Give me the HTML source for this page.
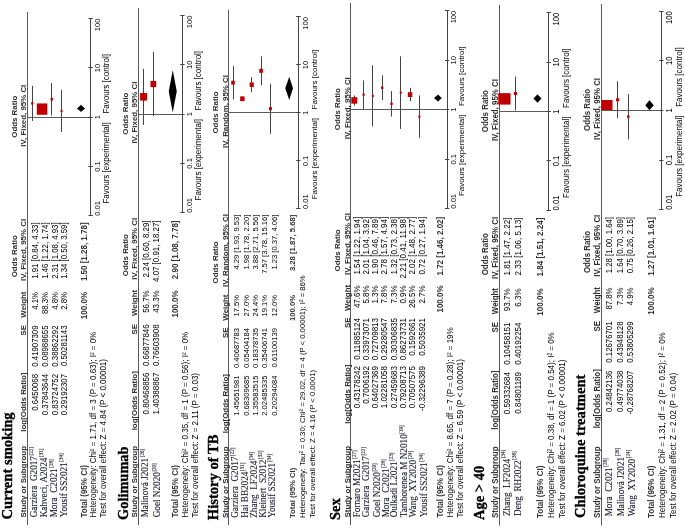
<!DOCTYPE html>
<html><head><meta charset="utf-8"><style>
html,body{margin:0;padding:0;background:#fff;}
body{width:685px;height:528px;overflow:hidden;position:relative;}
#c{position:absolute;left:0;top:0;width:528px;height:685px;transform-origin:0 0;transform:translate(0,528px) rotate(-90deg);background:#fff;filter:blur(0.4px);}
.t{position:absolute;white-space:pre;color:#000;}
.n{-webkit-text-stroke:0.12px currentColor;}
.tt{-webkit-text-stroke:0.3px currentColor;}
sup{font-size:5.0px;vertical-align:0;position:relative;top:-0.85em;margin-left:0.6px;}
svg{position:absolute;left:0;top:0;}
</style></head><body><div id="c">
<svg width="528" height="685" viewBox="0 0 528 685"><line x1="3.00" y1="27.50" x2="516.00" y2="27.50" stroke="#5a5a5a" stroke-width="1"/><line x1="407.07" y1="32.50" x2="442.18" y2="32.50" stroke="#444" stroke-width="1"/><rect x="423.43" y="31.17" width="2.44" height="2.26" fill="#c00000"/><line x1="415.06" y1="42.50" x2="422.66" y2="42.50" stroke="#444" stroke-width="1"/><rect x="413.23" y="36.80" width="11.34" height="10.50" fill="#c00000"/><line x1="412.45" y1="51.50" x2="444.96" y2="51.50" stroke="#444" stroke-width="1"/><rect x="427.40" y="50.58" width="2.64" height="2.45" fill="#c00000"/><line x1="395.96" y1="61.50" x2="438.17" y2="61.50" stroke="#444" stroke-width="1"/><rect x="415.99" y="60.55" width="2.16" height="2.00" fill="#c00000"/><polygon points="416.09,81.05 419.48,77.05 423.15,81.05 419.48,85.05" fill="#000"/><line x1="410.50" y1="27.50" x2="410.50" y2="90.65" stroke="#5a5a5a" stroke-width="1"/><line x1="312.20" y1="90.50" x2="509.40" y2="90.50" stroke="#444" stroke-width="1"/><line x1="312.50" y1="88.45" x2="312.50" y2="92.85" stroke="#444" stroke-width="1"/><line x1="361.50" y1="88.45" x2="361.50" y2="92.85" stroke="#444" stroke-width="1"/><line x1="410.50" y1="88.45" x2="410.50" y2="92.85" stroke="#444" stroke-width="1"/><line x1="460.50" y1="88.45" x2="460.50" y2="92.85" stroke="#444" stroke-width="1"/><line x1="509.50" y1="88.45" x2="509.50" y2="92.85" stroke="#444" stroke-width="1"/><line x1="3.00" y1="138.50" x2="520.00" y2="138.50" stroke="#5a5a5a" stroke-width="1"/><line x1="402.96" y1="143.50" x2="459.18" y2="143.50" stroke="#444" stroke-width="1"/><rect x="427.39" y="140.10" width="7.56" height="7.00" fill="#c00000"/><line x1="411.88" y1="153.50" x2="476.10" y2="153.50" stroke="#444" stroke-width="1"/><rect x="440.82" y="150.45" width="6.26" height="5.80" fill="#c00000"/><polygon points="415.55,172.85 436.70,168.85 457.83,172.85 436.70,176.85" fill="#000"/><line x1="413.50" y1="138.20" x2="413.50" y2="182.45" stroke="#5a5a5a" stroke-width="1"/><line x1="315.30" y1="182.50" x2="512.50" y2="182.50" stroke="#444" stroke-width="1"/><line x1="315.50" y1="180.25" x2="315.50" y2="184.65" stroke="#444" stroke-width="1"/><line x1="364.50" y1="180.25" x2="364.50" y2="184.65" stroke="#444" stroke-width="1"/><line x1="413.50" y1="180.25" x2="413.50" y2="184.65" stroke="#444" stroke-width="1"/><line x1="463.50" y1="180.25" x2="463.50" y2="184.65" stroke="#444" stroke-width="1"/><line x1="512.50" y1="180.25" x2="512.50" y2="184.65" stroke="#444" stroke-width="1"/><line x1="3.00" y1="228.50" x2="518.40" y2="228.50" stroke="#5a5a5a" stroke-width="1"/><line x1="428.71" y1="233.50" x2="462.00" y2="233.50" stroke="#444" stroke-width="1"/><rect x="443.44" y="231.23" width="3.84" height="3.56" fill="#c00000"/><line x1="427.02" y1="242.50" x2="431.44" y2="242.50" stroke="#444" stroke-width="1"/><rect x="426.85" y="240.16" width="4.77" height="4.42" fill="#c00000"/><line x1="435.78" y1="251.50" x2="450.76" y2="251.50" stroke="#444" stroke-width="1"/><rect x="441.00" y="249.62" width="4.53" height="4.20" fill="#c00000"/><line x1="442.72" y1="261.50" x2="471.67" y2="261.50" stroke="#444" stroke-width="1"/><rect x="455.19" y="259.23" width="4.01" height="3.71" fill="#c00000"/><line x1="394.27" y1="270.50" x2="444.21" y2="270.50" stroke="#444" stroke-width="1"/><rect x="417.73" y="268.97" width="3.18" height="2.94" fill="#c00000"/><polygon points="428.05,289.16 439.76,285.32 451.21,289.16 439.76,293.00" fill="#000"/><line x1="415.50" y1="228.30" x2="415.50" y2="298.38" stroke="#5a5a5a" stroke-width="1"/><line x1="319.00" y1="298.50" x2="511.00" y2="298.50" stroke="#444" stroke-width="1"/><line x1="319.50" y1="296.18" x2="319.50" y2="300.58" stroke="#444" stroke-width="1"/><line x1="367.50" y1="296.18" x2="367.50" y2="300.58" stroke="#444" stroke-width="1"/><line x1="415.50" y1="296.18" x2="415.50" y2="300.58" stroke="#444" stroke-width="1"/><line x1="463.50" y1="296.18" x2="463.50" y2="300.58" stroke="#444" stroke-width="1"/><line x1="511.50" y1="296.18" x2="511.50" y2="300.58" stroke="#444" stroke-width="1"/><line x1="3.00" y1="350.50" x2="525.00" y2="350.50" stroke="#5a5a5a" stroke-width="1"/><line x1="422.57" y1="354.50" x2="432.55" y2="354.50" stroke="#444" stroke-width="1"/><rect x="424.34" y="351.31" width="6.48" height="6.00" fill="#c00000"/><line x1="419.14" y1="363.50" x2="447.67" y2="363.50" stroke="#444" stroke-width="1"/><rect x="432.18" y="362.55" width="2.26" height="2.10" fill="#c00000"/><line x1="401.61" y1="372.50" x2="462.71" y2="372.50" stroke="#444" stroke-width="1"/><rect x="431.02" y="371.89" width="2.16" height="2.00" fill="#c00000"/><line x1="428.00" y1="382.50" x2="452.64" y2="382.50" stroke="#444" stroke-width="1"/><rect x="438.97" y="380.97" width="2.62" height="2.43" fill="#c00000"/><line x1="411.53" y1="391.50" x2="436.94" y2="391.50" stroke="#444" stroke-width="1"/><rect x="423.00" y="390.30" width="2.54" height="2.35" fill="#c00000"/><line x1="399.13" y1="400.50" x2="471.68" y2="400.50" stroke="#444" stroke-width="1"/><rect x="434.27" y="399.77" width="2.16" height="2.00" fill="#c00000"/><line x1="426.73" y1="410.50" x2="440.20" y2="410.50" stroke="#444" stroke-width="1"/><rect x="431.00" y="407.82" width="4.84" height="4.48" fill="#c00000"/><line x1="390.15" y1="419.50" x2="432.55" y2="419.50" stroke="#444" stroke-width="1"/><rect x="410.16" y="418.35" width="2.16" height="2.00" fill="#c00000"/><polygon points="426.44,437.93 429.96,434.12 433.41,437.93 429.96,441.75" fill="#000"/><line x1="418.50" y1="350.40" x2="418.50" y2="447.08" stroke="#5a5a5a" stroke-width="1"/><line x1="319.30" y1="447.50" x2="517.30" y2="447.50" stroke="#444" stroke-width="1"/><line x1="319.50" y1="444.88" x2="319.50" y2="449.28" stroke="#444" stroke-width="1"/><line x1="368.50" y1="444.88" x2="368.50" y2="449.28" stroke="#444" stroke-width="1"/><line x1="418.50" y1="444.88" x2="418.50" y2="449.28" stroke="#444" stroke-width="1"/><line x1="467.50" y1="444.88" x2="467.50" y2="449.28" stroke="#444" stroke-width="1"/><line x1="517.50" y1="444.88" x2="517.50" y2="449.28" stroke="#444" stroke-width="1"/><line x1="2.50" y1="499.50" x2="523.00" y2="499.50" stroke="#5a5a5a" stroke-width="1"/><line x1="424.67" y1="504.50" x2="433.51" y2="504.50" stroke="#444" stroke-width="1"/><rect x="423.41" y="498.25" width="11.43" height="12.29" fill="#c00000"/><line x1="417.65" y1="515.50" x2="451.48" y2="515.50" stroke="#444" stroke-width="1"/><rect x="433.07" y="513.82" width="2.96" height="3.19" fill="#c00000"/><polygon points="425.24,537.45 429.48,533.38 433.70,537.45 429.48,541.52" fill="#000"/><line x1="416.50" y1="499.20" x2="416.50" y2="548.75" stroke="#5a5a5a" stroke-width="1"/><line x1="317.60" y1="548.50" x2="515.20" y2="548.50" stroke="#444" stroke-width="1"/><line x1="317.50" y1="546.55" x2="317.50" y2="550.95" stroke="#444" stroke-width="1"/><line x1="367.50" y1="546.55" x2="367.50" y2="550.95" stroke="#444" stroke-width="1"/><line x1="416.50" y1="546.55" x2="416.50" y2="550.95" stroke="#444" stroke-width="1"/><line x1="465.50" y1="546.55" x2="465.50" y2="550.95" stroke="#444" stroke-width="1"/><line x1="515.50" y1="546.55" x2="515.50" y2="550.95" stroke="#444" stroke-width="1"/><line x1="2.50" y1="601.50" x2="524.00" y2="601.50" stroke="#5a5a5a" stroke-width="1"/><line x1="417.55" y1="606.50" x2="428.21" y2="606.50" stroke="#444" stroke-width="1"/><rect x="417.75" y="601.49" width="10.23" height="11.00" fill="#c00000"/><line x1="409.87" y1="617.50" x2="446.81" y2="617.50" stroke="#444" stroke-width="1"/><rect x="426.73" y="616.03" width="2.95" height="3.17" fill="#c00000"/><line x1="388.53" y1="628.50" x2="434.04" y2="628.50" stroke="#444" stroke-width="1"/><rect x="410.14" y="626.94" width="2.42" height="2.60" fill="#c00000"/><polygon points="417.76,649.50 422.70,645.14 427.81,649.50 422.70,653.86" fill="#000"/><line x1="417.50" y1="601.10" x2="417.50" y2="661.27" stroke="#5a5a5a" stroke-width="1"/><line x1="318.35" y1="661.50" x2="516.75" y2="661.50" stroke="#444" stroke-width="1"/><line x1="318.50" y1="659.07" x2="318.50" y2="663.47" stroke="#444" stroke-width="1"/><line x1="367.50" y1="659.07" x2="367.50" y2="663.47" stroke="#444" stroke-width="1"/><line x1="417.50" y1="659.07" x2="417.50" y2="663.47" stroke="#444" stroke-width="1"/><line x1="467.50" y1="659.07" x2="467.50" y2="663.47" stroke="#444" stroke-width="1"/><line x1="516.50" y1="659.07" x2="516.50" y2="663.47" stroke="#444" stroke-width="1"/></svg>
<div class="t tt" style="top:-0.12px;font-family:'Liberation Serif', serif;font-size:14.6px;line-height:14.6px;font-weight:bold;left:8.50px;">Current smoking</div><div class="t" style="top:11.18px;font-family:'Liberation Sans', sans-serif;font-size:7.9px;line-height:7.9px;font-weight:bold;color:#2e2e2e;left:250.70px;transform:scaleY(1.026);transform-origin:0 6.71px;">Odds Ratio</div><div class="t" style="top:11.18px;font-family:'Liberation Sans', sans-serif;font-size:7.9px;line-height:7.9px;font-weight:bold;color:#2e2e2e;left:211.30px;width:400px;text-align:center;transform:scaleY(1.026);transform-origin:0 6.71px;">Odds Ratio</div><div class="t" style="top:19.98px;font-family:'Liberation Sans', sans-serif;font-size:7.9px;line-height:7.9px;font-weight:bold;color:#2e2e2e;left:10.50px;transform:scaleY(1.026);transform-origin:0 6.71px;">Study or Subgroup</div><div class="t" style="top:19.98px;font-family:'Liberation Sans', sans-serif;font-size:7.9px;line-height:7.9px;font-weight:bold;color:#2e2e2e;right:372.50px;transform:scaleY(1.026);transform-origin:0 6.71px;">log[Odds Ratio]</div><div class="t" style="top:19.98px;font-family:'Liberation Sans', sans-serif;font-size:7.9px;line-height:7.9px;font-weight:bold;color:#2e2e2e;right:325.00px;transform:scaleY(1.026);transform-origin:0 6.71px;">SE</div><div class="t" style="top:19.98px;font-family:'Liberation Sans', sans-serif;font-size:7.9px;line-height:7.9px;font-weight:bold;color:#2e2e2e;right:291.50px;transform:scaleY(1.026);transform-origin:0 6.71px;">Weight</div><div class="t" style="top:19.98px;font-family:'Liberation Sans', sans-serif;font-size:7.9px;line-height:7.9px;font-weight:bold;color:#2e2e2e;left:247.10px;transform:scaleY(1.026);transform-origin:0 6.71px;">IV, Fixed, 95% CI</div><div class="t" style="top:19.98px;font-family:'Liberation Sans', sans-serif;font-size:7.9px;line-height:7.9px;font-weight:bold;color:#2e2e2e;left:212.30px;width:400px;text-align:center;transform:scaleY(1.026);transform-origin:0 6.71px;">IV, Fixed, 95% CI</div><div class="t n" style="top:30.26px;font-family:'Liberation Serif', serif;font-size:9.2px;line-height:9.2px;color:#1c1c30;left:10.70px;transform:scaleY(1.080);transform-origin:0 7.64px;">Garziera  G2017<sup>[22]</sup></div><div class="t" style="top:32.07px;font-family:'Liberation Sans', sans-serif;font-size:7.8px;line-height:7.8px;right:374.00px;transform:scaleY(1.080);transform-origin:0 6.63px;">0.6450068</div><div class="t" style="top:32.07px;font-family:'Liberation Sans', sans-serif;font-size:7.8px;line-height:7.8px;right:325.50px;transform:scaleY(1.080);transform-origin:0 6.63px;">0.41907309</div><div class="t" style="top:32.07px;font-family:'Liberation Sans', sans-serif;font-size:7.8px;line-height:7.8px;right:292.00px;transform:scaleY(1.080);transform-origin:0 6.63px;">4.1%</div><div class="t" style="top:32.07px;font-family:'Liberation Sans', sans-serif;font-size:7.8px;line-height:7.8px;right:222.40px;transform:scaleY(1.080);transform-origin:0 6.63px;">1.91 [0.84, 4.33]</div><div class="t n" style="top:40.01px;font-family:'Liberation Serif', serif;font-size:9.2px;line-height:9.2px;color:#1c1c30;left:10.70px;transform:scaleY(1.080);transform-origin:0 7.64px;">Kahveci, A2024<sup>[31]</sup></div><div class="t" style="top:41.82px;font-family:'Liberation Sans', sans-serif;font-size:7.8px;line-height:7.8px;right:374.00px;transform:scaleY(1.080);transform-origin:0 6.63px;">0.37843644</div><div class="t" style="top:41.82px;font-family:'Liberation Sans', sans-serif;font-size:7.8px;line-height:7.8px;right:325.50px;transform:scaleY(1.080);transform-origin:0 6.63px;">0.08988655</div><div class="t" style="top:41.82px;font-family:'Liberation Sans', sans-serif;font-size:7.8px;line-height:7.8px;right:292.00px;transform:scaleY(1.080);transform-origin:0 6.63px;">88.3%</div><div class="t" style="top:41.82px;font-family:'Liberation Sans', sans-serif;font-size:7.8px;line-height:7.8px;right:222.40px;transform:scaleY(1.080);transform-origin:0 6.63px;">1.46 [1.22, 1.74]</div><div class="t n" style="top:49.76px;font-family:'Liberation Serif', serif;font-size:9.2px;line-height:9.2px;color:#1c1c30;left:10.70px;transform:scaleY(1.080);transform-origin:0 7.64px;">Mora  C2021<sup>[28]</sup></div><div class="t" style="top:51.57px;font-family:'Liberation Sans', sans-serif;font-size:7.8px;line-height:7.8px;right:374.00px;transform:scaleY(1.080);transform-origin:0 6.63px;">0.83724752</div><div class="t" style="top:51.57px;font-family:'Liberation Sans', sans-serif;font-size:7.8px;line-height:7.8px;right:325.50px;transform:scaleY(1.080);transform-origin:0 6.63px;">0.38862292</div><div class="t" style="top:51.57px;font-family:'Liberation Sans', sans-serif;font-size:7.8px;line-height:7.8px;right:292.00px;transform:scaleY(1.080);transform-origin:0 6.63px;">4.8%</div><div class="t" style="top:51.57px;font-family:'Liberation Sans', sans-serif;font-size:7.8px;line-height:7.8px;right:222.40px;transform:scaleY(1.080);transform-origin:0 6.63px;">2.31 [1.08, 4.93]</div><div class="t n" style="top:59.51px;font-family:'Liberation Serif', serif;font-size:9.2px;line-height:9.2px;color:#1c1c30;left:10.70px;transform:scaleY(1.080);transform-origin:0 7.64px;">Yousif SS2021<sup>[34]</sup></div><div class="t" style="top:61.32px;font-family:'Liberation Sans', sans-serif;font-size:7.8px;line-height:7.8px;right:374.00px;transform:scaleY(1.080);transform-origin:0 6.63px;">0.29192307</div><div class="t" style="top:61.32px;font-family:'Liberation Sans', sans-serif;font-size:7.8px;line-height:7.8px;right:325.50px;transform:scaleY(1.080);transform-origin:0 6.63px;">0.50281143</div><div class="t" style="top:61.32px;font-family:'Liberation Sans', sans-serif;font-size:7.8px;line-height:7.8px;right:292.00px;transform:scaleY(1.080);transform-origin:0 6.63px;">2.8%</div><div class="t" style="top:61.32px;font-family:'Liberation Sans', sans-serif;font-size:7.8px;line-height:7.8px;right:222.40px;transform:scaleY(1.080);transform-origin:0 6.63px;">1.34 [0.50, 3.59]</div><div class="t" style="top:80.65px;font-family:'Liberation Sans', sans-serif;font-size:8px;line-height:8px;font-weight:bold;color:#333;left:10.50px;transform:scaleY(1.080);transform-origin:0 6.80px;">Total (95% CI)</div><div class="t" style="top:80.65px;font-family:'Liberation Sans', sans-serif;font-size:8px;line-height:8px;font-weight:bold;color:#333;right:292.00px;transform:scaleY(1.080);transform-origin:0 6.80px;">100.0%</div><div class="t" style="top:80.65px;font-family:'Liberation Sans', sans-serif;font-size:8px;line-height:8px;font-weight:bold;color:#333;right:222.40px;transform:scaleY(1.080);transform-origin:0 6.80px;">1.50 [1.28, 1.78]</div><div class="t" style="top:90.40px;font-family:'Liberation Sans', sans-serif;font-size:8px;line-height:8px;left:10.50px;transform:scaleY(1.080);transform-origin:0 6.80px;">Heterogeneity: Chi² = 1.71, df = 3 (P = 0.63); I² = 0%</div><div class="t" style="top:100.15px;font-family:'Liberation Sans', sans-serif;font-size:8px;line-height:8px;left:10.50px;transform:scaleY(1.080);transform-origin:0 6.80px;">Test for overall effect: Z = 4.84 (P &lt; 0.00001)</div><div class="t" style="top:94.09px;font-family:'Liberation Sans', sans-serif;font-size:7.6px;line-height:7.6px;left:312.20px;transform:scaleY(1.026);transform-origin:0 6.46px;">0.01</div><div class="t" style="top:94.09px;font-family:'Liberation Sans', sans-serif;font-size:7.6px;line-height:7.6px;left:161.50px;width:400px;text-align:center;transform:scaleY(1.026);transform-origin:0 6.46px;">0.1</div><div class="t" style="top:94.09px;font-family:'Liberation Sans', sans-serif;font-size:7.6px;line-height:7.6px;left:210.80px;width:400px;text-align:center;transform:scaleY(1.026);transform-origin:0 6.46px;">1</div><div class="t" style="top:94.09px;font-family:'Liberation Sans', sans-serif;font-size:7.6px;line-height:7.6px;left:260.10px;width:400px;text-align:center;transform:scaleY(1.026);transform-origin:0 6.46px;">10</div><div class="t" style="top:94.09px;font-family:'Liberation Sans', sans-serif;font-size:7.6px;line-height:7.6px;right:18.60px;transform:scaleY(1.026);transform-origin:0 6.46px;">100</div><div class="t" style="top:102.85px;font-family:'Liberation Sans', sans-serif;font-size:8px;line-height:8px;right:122.20px;transform:scaleY(1.026);transform-origin:0 6.80px;">Favours [experimental]</div><div class="t" style="top:102.85px;font-family:'Liberation Sans', sans-serif;font-size:8px;line-height:8px;left:414.40px;transform:scaleY(1.026);transform-origin:0 6.80px;">Favours [control]</div><div class="t tt" style="top:115.55px;font-family:'Liberation Serif', serif;font-size:14.4px;line-height:14.4px;font-weight:bold;left:8.00px;">Golimumab</div><div class="t" style="top:121.88px;font-family:'Liberation Sans', sans-serif;font-size:7.9px;line-height:7.9px;font-weight:bold;color:#2e2e2e;left:251.80px;transform:scaleY(1.026);transform-origin:0 6.71px;">Odds Ratio</div><div class="t" style="top:121.88px;font-family:'Liberation Sans', sans-serif;font-size:7.9px;line-height:7.9px;font-weight:bold;color:#2e2e2e;left:214.40px;width:400px;text-align:center;transform:scaleY(1.026);transform-origin:0 6.71px;">Odds Ratio</div><div class="t" style="top:131.48px;font-family:'Liberation Sans', sans-serif;font-size:7.9px;line-height:7.9px;font-weight:bold;color:#2e2e2e;left:10.50px;transform:scaleY(1.026);transform-origin:0 6.71px;">Study or Subgroup</div><div class="t" style="top:131.48px;font-family:'Liberation Sans', sans-serif;font-size:7.9px;line-height:7.9px;font-weight:bold;color:#2e2e2e;right:371.20px;transform:scaleY(1.026);transform-origin:0 6.71px;">log[Odds Ratio]</div><div class="t" style="top:131.48px;font-family:'Liberation Sans', sans-serif;font-size:7.9px;line-height:7.9px;font-weight:bold;color:#2e2e2e;right:323.90px;transform:scaleY(1.026);transform-origin:0 6.71px;">SE</div><div class="t" style="top:131.48px;font-family:'Liberation Sans', sans-serif;font-size:7.9px;line-height:7.9px;font-weight:bold;color:#2e2e2e;right:289.90px;transform:scaleY(1.026);transform-origin:0 6.71px;">Weight</div><div class="t" style="top:131.48px;font-family:'Liberation Sans', sans-serif;font-size:7.9px;line-height:7.9px;font-weight:bold;color:#2e2e2e;left:248.20px;transform:scaleY(1.026);transform-origin:0 6.71px;">IV, Fixed, 95% CI</div><div class="t" style="top:131.48px;font-family:'Liberation Sans', sans-serif;font-size:7.9px;line-height:7.9px;font-weight:bold;color:#2e2e2e;left:215.40px;width:400px;text-align:center;transform:scaleY(1.026);transform-origin:0 6.71px;">IV, Fixed, 95% CI</div><div class="t n" style="top:141.26px;font-family:'Liberation Serif', serif;font-size:9.2px;line-height:9.2px;color:#1c1c30;left:10.70px;transform:scaleY(1.080);transform-origin:0 7.64px;">Malinová J2021<sup>[26]</sup></div><div class="t" style="top:142.98px;font-family:'Liberation Sans', sans-serif;font-size:7.9px;line-height:7.9px;right:372.70px;transform:scaleY(1.080);transform-origin:0 6.71px;">0.80468856</div><div class="t" style="top:142.98px;font-family:'Liberation Sans', sans-serif;font-size:7.9px;line-height:7.9px;right:324.40px;transform:scaleY(1.080);transform-origin:0 6.71px;">0.66877846</div><div class="t" style="top:142.98px;font-family:'Liberation Sans', sans-serif;font-size:7.9px;line-height:7.9px;right:290.40px;transform:scaleY(1.080);transform-origin:0 6.71px;">56.7%</div><div class="t" style="top:142.98px;font-family:'Liberation Sans', sans-serif;font-size:7.9px;line-height:7.9px;right:220.50px;transform:scaleY(1.080);transform-origin:0 6.71px;">2.24 [0.60, 8.29]</div><div class="t n" style="top:152.51px;font-family:'Liberation Serif', serif;font-size:9.2px;line-height:9.2px;color:#1c1c30;left:10.70px;transform:scaleY(1.080);transform-origin:0 7.64px;">Goel N2020<sup>[20]</sup></div><div class="t" style="top:152.73px;font-family:'Liberation Sans', sans-serif;font-size:7.9px;line-height:7.9px;right:372.70px;transform:scaleY(1.080);transform-origin:0 6.71px;">1.40388867</div><div class="t" style="top:152.73px;font-family:'Liberation Sans', sans-serif;font-size:7.9px;line-height:7.9px;right:324.40px;transform:scaleY(1.080);transform-origin:0 6.71px;">0.76603908</div><div class="t" style="top:152.73px;font-family:'Liberation Sans', sans-serif;font-size:7.9px;line-height:7.9px;right:290.40px;transform:scaleY(1.080);transform-origin:0 6.71px;">43.3%</div><div class="t" style="top:152.73px;font-family:'Liberation Sans', sans-serif;font-size:7.9px;line-height:7.9px;right:220.50px;transform:scaleY(1.080);transform-origin:0 6.71px;">4.07 [0.91, 18.27]</div><div class="t" style="top:172.15px;font-family:'Liberation Sans', sans-serif;font-size:8px;line-height:8px;font-weight:bold;color:#333;left:10.50px;transform:scaleY(1.080);transform-origin:0 6.80px;">Total (95% CI)</div><div class="t" style="top:172.15px;font-family:'Liberation Sans', sans-serif;font-size:8px;line-height:8px;font-weight:bold;color:#333;right:290.40px;transform:scaleY(1.080);transform-origin:0 6.80px;">100.0%</div><div class="t" style="top:172.15px;font-family:'Liberation Sans', sans-serif;font-size:8px;line-height:8px;font-weight:bold;color:#333;right:220.50px;transform:scaleY(1.080);transform-origin:0 6.80px;">2.90 [1.08, 7.78]</div><div class="t" style="top:181.90px;font-family:'Liberation Sans', sans-serif;font-size:8px;line-height:8px;left:10.50px;transform:scaleY(1.080);transform-origin:0 6.80px;">Heterogeneity: Chi² = 0.35, df = 1 (P = 0.56); I² = 0%</div><div class="t" style="top:191.65px;font-family:'Liberation Sans', sans-serif;font-size:8px;line-height:8px;left:10.50px;transform:scaleY(1.080);transform-origin:0 6.80px;">Test for overall effect: Z = 2.11 (P = 0.03)</div><div class="t" style="top:185.89px;font-family:'Liberation Sans', sans-serif;font-size:7.6px;line-height:7.6px;left:315.30px;transform:scaleY(1.026);transform-origin:0 6.46px;">0.01</div><div class="t" style="top:185.89px;font-family:'Liberation Sans', sans-serif;font-size:7.6px;line-height:7.6px;left:164.60px;width:400px;text-align:center;transform:scaleY(1.026);transform-origin:0 6.46px;">0.1</div><div class="t" style="top:185.89px;font-family:'Liberation Sans', sans-serif;font-size:7.6px;line-height:7.6px;left:213.90px;width:400px;text-align:center;transform:scaleY(1.026);transform-origin:0 6.46px;">1</div><div class="t" style="top:185.89px;font-family:'Liberation Sans', sans-serif;font-size:7.6px;line-height:7.6px;left:263.20px;width:400px;text-align:center;transform:scaleY(1.026);transform-origin:0 6.46px;">10</div><div class="t" style="top:185.89px;font-family:'Liberation Sans', sans-serif;font-size:7.6px;line-height:7.6px;right:15.50px;transform:scaleY(1.026);transform-origin:0 6.46px;">100</div><div class="t" style="top:194.65px;font-family:'Liberation Sans', sans-serif;font-size:8px;line-height:8px;right:119.10px;transform:scaleY(1.026);transform-origin:0 6.80px;">Favours [experimental]</div><div class="t" style="top:194.65px;font-family:'Liberation Sans', sans-serif;font-size:8px;line-height:8px;left:417.50px;transform:scaleY(1.026);transform-origin:0 6.80px;">Favours [control]</div><div class="t tt" style="top:205.78px;font-family:'Liberation Serif', serif;font-size:14.6px;line-height:14.6px;font-weight:bold;left:7.80px;">History of TB</div><div class="t" style="top:212.37px;font-family:'Liberation Sans', sans-serif;font-size:7.9px;line-height:7.9px;font-weight:bold;color:#2e2e2e;left:244.60px;transform:scaleY(0.985);transform-origin:0 6.71px;">Odds Ratio</div><div class="t" style="top:212.37px;font-family:'Liberation Sans', sans-serif;font-size:7.9px;line-height:7.9px;font-weight:bold;color:#2e2e2e;left:215.50px;width:400px;text-align:center;transform:scaleY(0.985);transform-origin:0 6.71px;">Odds Ratio</div><div class="t" style="top:221.59px;font-family:'Liberation Sans', sans-serif;font-size:7.9px;line-height:7.9px;font-weight:bold;color:#2e2e2e;left:10.00px;transform:scaleY(0.985);transform-origin:0 6.71px;">Study or Subgroup</div><div class="t" style="top:221.59px;font-family:'Liberation Sans', sans-serif;font-size:7.9px;line-height:7.9px;font-weight:bold;color:#2e2e2e;right:374.10px;transform:scaleY(0.985);transform-origin:0 6.71px;">log[Odds Ratio]</div><div class="t" style="top:221.59px;font-family:'Liberation Sans', sans-serif;font-size:7.9px;line-height:7.9px;font-weight:bold;color:#2e2e2e;right:327.50px;transform:scaleY(0.985);transform-origin:0 6.71px;">SE</div><div class="t" style="top:221.59px;font-family:'Liberation Sans', sans-serif;font-size:7.9px;line-height:7.9px;font-weight:bold;color:#2e2e2e;right:294.50px;transform:scaleY(0.985);transform-origin:0 6.71px;">Weight</div><div class="t" style="top:221.59px;font-family:'Liberation Sans', sans-serif;font-size:7.9px;line-height:7.9px;font-weight:bold;color:#2e2e2e;left:241.00px;transform:scaleY(0.985);transform-origin:0 6.71px;">IV, Random, 95% CI</div><div class="t" style="top:221.59px;font-family:'Liberation Sans', sans-serif;font-size:7.9px;line-height:7.9px;font-weight:bold;color:#2e2e2e;left:216.50px;width:400px;text-align:center;transform:scaleY(0.985);transform-origin:0 6.71px;">IV, Random, 95% CI</div><div class="t n" style="top:231.19px;font-family:'Liberation Serif', serif;font-size:9.2px;line-height:9.2px;color:#1c1c30;left:10.20px;transform:scaleY(1.037);transform-origin:0 7.64px;">Garziera  G2017<sup>[22]</sup></div><div class="t" style="top:233.17px;font-family:'Liberation Sans', sans-serif;font-size:7.6px;line-height:7.6px;right:375.60px;transform:scaleY(1.037);transform-origin:0 6.46px;">1.45651981</div><div class="t" style="top:233.17px;font-family:'Liberation Sans', sans-serif;font-size:7.6px;line-height:7.6px;right:328.00px;transform:scaleY(1.037);transform-origin:0 6.46px;">0.40687783</div><div class="t" style="top:233.17px;font-family:'Liberation Sans', sans-serif;font-size:7.6px;line-height:7.6px;right:295.00px;transform:scaleY(1.037);transform-origin:0 6.46px;">17.5%</div><div class="t" style="top:233.17px;font-family:'Liberation Sans', sans-serif;font-size:7.6px;line-height:7.6px;right:214.70px;transform:scaleY(1.037);transform-origin:0 6.46px;">4.29 [1.93, 9.53]</div><div class="t n" style="top:240.55px;font-family:'Liberation Serif', serif;font-size:9.2px;line-height:9.2px;color:#1c1c30;left:10.20px;transform:scaleY(1.037);transform-origin:0 7.64px;">Hai BB2024<sup>[31]</sup></div><div class="t" style="top:242.53px;font-family:'Liberation Sans', sans-serif;font-size:7.6px;line-height:7.6px;right:375.60px;transform:scaleY(1.037);transform-origin:0 6.46px;">0.68309685</div><div class="t" style="top:242.53px;font-family:'Liberation Sans', sans-serif;font-size:7.6px;line-height:7.6px;right:328.00px;transform:scaleY(1.037);transform-origin:0 6.46px;">0.05404184</div><div class="t" style="top:242.53px;font-family:'Liberation Sans', sans-serif;font-size:7.6px;line-height:7.6px;right:295.00px;transform:scaleY(1.037);transform-origin:0 6.46px;">27.0%</div><div class="t" style="top:242.53px;font-family:'Liberation Sans', sans-serif;font-size:7.6px;line-height:7.6px;right:214.70px;transform:scaleY(1.037);transform-origin:0 6.46px;">1.98 [1.78, 2.20]</div><div class="t n" style="top:249.91px;font-family:'Liberation Serif', serif;font-size:9.2px;line-height:9.2px;color:#1c1c30;left:10.20px;transform:scaleY(1.037);transform-origin:0 7.64px;">Zhang  LF2024<sup>[34]</sup></div><div class="t" style="top:251.89px;font-family:'Liberation Sans', sans-serif;font-size:7.6px;line-height:7.6px;right:375.60px;transform:scaleY(1.037);transform-origin:0 6.46px;">1.35583515</div><div class="t" style="top:251.89px;font-family:'Liberation Sans', sans-serif;font-size:7.6px;line-height:7.6px;right:328.00px;transform:scaleY(1.037);transform-origin:0 6.46px;">0.18378735</div><div class="t" style="top:251.89px;font-family:'Liberation Sans', sans-serif;font-size:7.6px;line-height:7.6px;right:295.00px;transform:scaleY(1.037);transform-origin:0 6.46px;">24.4%</div><div class="t" style="top:251.89px;font-family:'Liberation Sans', sans-serif;font-size:7.6px;line-height:7.6px;right:214.70px;transform:scaleY(1.037);transform-origin:0 6.46px;">3.88 [2.71, 5.56]</div><div class="t n" style="top:259.47px;font-family:'Liberation Serif', serif;font-size:9.2px;line-height:9.2px;color:#1c1c30;left:10.20px;transform:scaleY(1.037);transform-origin:0 7.64px;">Kleinert  S2012<sup>[32]</sup></div><div class="t" style="top:261.25px;font-family:'Liberation Sans', sans-serif;font-size:7.6px;line-height:7.6px;right:375.60px;transform:scaleY(1.037);transform-origin:0 6.46px;">2.02485335</div><div class="t" style="top:261.25px;font-family:'Liberation Sans', sans-serif;font-size:7.6px;line-height:7.6px;right:328.00px;transform:scaleY(1.037);transform-origin:0 6.46px;">0.35406741</div><div class="t" style="top:261.25px;font-family:'Liberation Sans', sans-serif;font-size:7.6px;line-height:7.6px;right:295.00px;transform:scaleY(1.037);transform-origin:0 6.46px;">19.1%</div><div class="t" style="top:261.25px;font-family:'Liberation Sans', sans-serif;font-size:7.6px;line-height:7.6px;right:214.70px;transform:scaleY(1.037);transform-origin:0 6.46px;">7.57 [3.78, 15.16]</div><div class="t n" style="top:268.03px;font-family:'Liberation Serif', serif;font-size:9.2px;line-height:9.2px;color:#1c1c30;left:10.20px;transform:scaleY(1.037);transform-origin:0 7.64px;">Yousif SS2021<sup>[34]</sup></div><div class="t" style="top:270.61px;font-family:'Liberation Sans', sans-serif;font-size:7.6px;line-height:7.6px;right:375.60px;transform:scaleY(1.037);transform-origin:0 6.46px;">0.20294084</div><div class="t" style="top:270.61px;font-family:'Liberation Sans', sans-serif;font-size:7.6px;line-height:7.6px;right:328.00px;transform:scaleY(1.037);transform-origin:0 6.46px;">0.61100139</div><div class="t" style="top:270.61px;font-family:'Liberation Sans', sans-serif;font-size:7.6px;line-height:7.6px;right:295.00px;transform:scaleY(1.037);transform-origin:0 6.46px;">12.0%</div><div class="t" style="top:270.61px;font-family:'Liberation Sans', sans-serif;font-size:7.6px;line-height:7.6px;right:214.70px;transform:scaleY(1.037);transform-origin:0 6.46px;">1.23 [0.37, 4.06]</div><div class="t" style="top:289.24px;font-family:'Liberation Sans', sans-serif;font-size:7.7px;line-height:7.7px;font-weight:bold;color:#333;left:10.00px;transform:scaleY(1.037);transform-origin:0 6.54px;">Total (95% CI)</div><div class="t" style="top:289.24px;font-family:'Liberation Sans', sans-serif;font-size:7.7px;line-height:7.7px;font-weight:bold;color:#333;right:295.00px;transform:scaleY(1.037);transform-origin:0 6.54px;">100.0%</div><div class="t" style="top:289.24px;font-family:'Liberation Sans', sans-serif;font-size:7.7px;line-height:7.7px;font-weight:bold;color:#333;right:214.70px;transform:scaleY(1.037);transform-origin:0 6.54px;">3.28 [1.87, 5.68]</div><div class="t" style="top:299.40px;font-family:'Liberation Sans', sans-serif;font-size:7.7px;line-height:7.7px;left:10.00px;transform:scaleY(1.037);transform-origin:0 6.54px;">Heterogeneity: Tau² = 0.30; Chi² = 29.02, df = 4 (P &lt; 0.00001); I² = 86%</div><div class="t" style="top:308.76px;font-family:'Liberation Sans', sans-serif;font-size:7.7px;line-height:7.7px;left:10.00px;transform:scaleY(1.037);transform-origin:0 6.54px;">Test for overall effect: Z = 4.16 (P &lt; 0.0001)</div><div class="t" style="top:302.10px;font-family:'Liberation Sans', sans-serif;font-size:7.6px;line-height:7.6px;left:319.00px;transform:scaleY(0.985);transform-origin:0 6.46px;">0.01</div><div class="t" style="top:302.10px;font-family:'Liberation Sans', sans-serif;font-size:7.6px;line-height:7.6px;left:167.00px;width:400px;text-align:center;transform:scaleY(0.985);transform-origin:0 6.46px;">0.1</div><div class="t" style="top:302.10px;font-family:'Liberation Sans', sans-serif;font-size:7.6px;line-height:7.6px;left:215.00px;width:400px;text-align:center;transform:scaleY(0.985);transform-origin:0 6.46px;">1</div><div class="t" style="top:302.10px;font-family:'Liberation Sans', sans-serif;font-size:7.6px;line-height:7.6px;left:263.00px;width:400px;text-align:center;transform:scaleY(0.985);transform-origin:0 6.46px;">10</div><div class="t" style="top:302.10px;font-family:'Liberation Sans', sans-serif;font-size:7.6px;line-height:7.6px;right:17.00px;transform:scaleY(0.985);transform-origin:0 6.46px;">100</div><div class="t" style="top:310.68px;font-family:'Liberation Sans', sans-serif;font-size:8px;line-height:8px;right:118.00px;transform:scaleY(0.985);transform-origin:0 6.80px;">Favours [experimental]</div><div class="t" style="top:310.68px;font-family:'Liberation Sans', sans-serif;font-size:8px;line-height:8px;left:418.60px;transform:scaleY(0.985);transform-origin:0 6.80px;">Favours [control]</div><div class="t tt" style="top:327.76px;font-family:'Liberation Serif', serif;font-size:14.5px;line-height:14.5px;font-weight:bold;left:8.00px;">Sex</div><div class="t" style="top:333.58px;font-family:'Liberation Sans', sans-serif;font-size:7.9px;line-height:7.9px;font-weight:bold;color:#2e2e2e;left:256.60px;transform:scaleY(0.978);transform-origin:0 6.71px;">Odds Ratio</div><div class="t" style="top:333.58px;font-family:'Liberation Sans', sans-serif;font-size:7.9px;line-height:7.9px;font-weight:bold;color:#2e2e2e;left:218.80px;width:400px;text-align:center;transform:scaleY(0.978);transform-origin:0 6.71px;">Odds Ratio</div><div class="t" style="top:343.69px;font-family:'Liberation Sans', sans-serif;font-size:7.9px;line-height:7.9px;font-weight:bold;color:#2e2e2e;left:10.50px;transform:scaleY(0.978);transform-origin:0 6.71px;">Study or Subgroup</div><div class="t" style="top:343.69px;font-family:'Liberation Sans', sans-serif;font-size:7.9px;line-height:7.9px;font-weight:bold;color:#2e2e2e;right:364.50px;transform:scaleY(0.978);transform-origin:0 6.71px;">log[Odds Ratio]</div><div class="t" style="top:343.69px;font-family:'Liberation Sans', sans-serif;font-size:7.9px;line-height:7.9px;font-weight:bold;color:#2e2e2e;right:317.50px;transform:scaleY(0.978);transform-origin:0 6.71px;">SE</div><div class="t" style="top:343.69px;font-family:'Liberation Sans', sans-serif;font-size:7.9px;line-height:7.9px;font-weight:bold;color:#2e2e2e;right:284.90px;transform:scaleY(0.978);transform-origin:0 6.71px;">Weight</div><div class="t" style="top:343.69px;font-family:'Liberation Sans', sans-serif;font-size:7.9px;line-height:7.9px;font-weight:bold;color:#2e2e2e;left:253.00px;transform:scaleY(0.978);transform-origin:0 6.71px;">IV, Fixed, 95% CI</div><div class="t" style="top:343.69px;font-family:'Liberation Sans', sans-serif;font-size:7.9px;line-height:7.9px;font-weight:bold;color:#2e2e2e;left:219.80px;width:400px;text-align:center;transform:scaleY(0.978);transform-origin:0 6.71px;">IV, Fixed, 95% CI</div><div class="t n" style="top:352.77px;font-family:'Liberation Serif', serif;font-size:9.2px;line-height:9.2px;color:#1c1c30;left:10.70px;transform:scaleY(1.029);transform-origin:0 7.64px;">Fornaro M2021<sup>[27]</sup></div><div class="t" style="top:353.61px;font-family:'Liberation Sans', sans-serif;font-size:8.0px;line-height:8.0px;right:366.00px;transform:scaleY(1.029);transform-origin:0 6.80px;">0.43178242</div><div class="t" style="top:353.61px;font-family:'Liberation Sans', sans-serif;font-size:8.0px;line-height:8.0px;right:318.00px;transform:scaleY(1.029);transform-origin:0 6.80px;">0.11885124</div><div class="t" style="top:353.61px;font-family:'Liberation Sans', sans-serif;font-size:8.0px;line-height:8.0px;right:285.40px;transform:scaleY(1.029);transform-origin:0 6.80px;">47.6%</div><div class="t" style="top:353.61px;font-family:'Liberation Sans', sans-serif;font-size:8.0px;line-height:8.0px;right:216.80px;transform:scaleY(1.029);transform-origin:0 6.80px;">1.54 [1.22, 1.94]</div><div class="t n" style="top:362.46px;font-family:'Liberation Serif', serif;font-size:9.2px;line-height:9.2px;color:#1c1c30;left:10.70px;transform:scaleY(1.029);transform-origin:0 7.64px;">Garziera  G2017<sup>[22]</sup></div><div class="t" style="top:362.90px;font-family:'Liberation Sans', sans-serif;font-size:8.0px;line-height:8.0px;right:366.00px;transform:scaleY(1.029);transform-origin:0 6.80px;">0.7006192</div><div class="t" style="top:362.90px;font-family:'Liberation Sans', sans-serif;font-size:8.0px;line-height:8.0px;right:318.00px;transform:scaleY(1.029);transform-origin:0 6.80px;">0.33973071</div><div class="t" style="top:362.90px;font-family:'Liberation Sans', sans-serif;font-size:8.0px;line-height:8.0px;right:285.40px;transform:scaleY(1.029);transform-origin:0 6.80px;">5.8%</div><div class="t" style="top:362.90px;font-family:'Liberation Sans', sans-serif;font-size:8.0px;line-height:8.0px;right:216.80px;transform:scaleY(1.029);transform-origin:0 6.80px;">2.01 [1.04, 3.92]</div><div class="t n" style="top:373.35px;font-family:'Liberation Serif', serif;font-size:9.2px;line-height:9.2px;color:#1c1c30;left:10.70px;transform:scaleY(1.029);transform-origin:0 7.64px;">Goel N2020<sup>[20]</sup></div><div class="t" style="top:372.19px;font-family:'Liberation Sans', sans-serif;font-size:8.0px;line-height:8.0px;right:366.00px;transform:scaleY(1.029);transform-origin:0 6.80px;">0.64027369</div><div class="t" style="top:372.19px;font-family:'Liberation Sans', sans-serif;font-size:8.0px;line-height:8.0px;right:318.00px;transform:scaleY(1.029);transform-origin:0 6.80px;">0.72709813</div><div class="t" style="top:372.19px;font-family:'Liberation Sans', sans-serif;font-size:8.0px;line-height:8.0px;right:285.40px;transform:scaleY(1.029);transform-origin:0 6.80px;">1.3%</div><div class="t" style="top:372.19px;font-family:'Liberation Sans', sans-serif;font-size:8.0px;line-height:8.0px;right:216.80px;transform:scaleY(1.029);transform-origin:0 6.80px;">1.90 [0.46, 7.89]</div><div class="t n" style="top:381.85px;font-family:'Liberation Serif', serif;font-size:9.2px;line-height:9.2px;color:#1c1c30;left:10.70px;transform:scaleY(1.029);transform-origin:0 7.64px;">Mora  C2021<sup>[28]</sup></div><div class="t" style="top:381.48px;font-family:'Liberation Sans', sans-serif;font-size:8.0px;line-height:8.0px;right:366.00px;transform:scaleY(1.029);transform-origin:0 6.80px;">1.02281058</div><div class="t" style="top:381.48px;font-family:'Liberation Sans', sans-serif;font-size:8.0px;line-height:8.0px;right:318.00px;transform:scaleY(1.029);transform-origin:0 6.80px;">0.29280547</div><div class="t" style="top:381.48px;font-family:'Liberation Sans', sans-serif;font-size:8.0px;line-height:8.0px;right:285.40px;transform:scaleY(1.029);transform-origin:0 6.80px;">7.8%</div><div class="t" style="top:381.48px;font-family:'Liberation Sans', sans-serif;font-size:8.0px;line-height:8.0px;right:216.80px;transform:scaleY(1.029);transform-origin:0 6.80px;">2.78 [1.57, 4.94]</div><div class="t n" style="top:390.34px;font-family:'Liberation Serif', serif;font-size:9.2px;line-height:9.2px;color:#1c1c30;left:10.70px;transform:scaleY(1.029);transform-origin:0 7.64px;">Oulkadi L2021<sup>[23]</sup></div><div class="t" style="top:390.77px;font-family:'Liberation Sans', sans-serif;font-size:8.0px;line-height:8.0px;right:366.00px;transform:scaleY(1.029);transform-origin:0 6.80px;">0.27459683</div><div class="t" style="top:390.77px;font-family:'Liberation Sans', sans-serif;font-size:8.0px;line-height:8.0px;right:318.00px;transform:scaleY(1.029);transform-origin:0 6.80px;">0.30306835</div><div class="t" style="top:390.77px;font-family:'Liberation Sans', sans-serif;font-size:8.0px;line-height:8.0px;right:285.40px;transform:scaleY(1.029);transform-origin:0 6.80px;">7.3%</div><div class="t" style="top:390.77px;font-family:'Liberation Sans', sans-serif;font-size:8.0px;line-height:8.0px;right:216.80px;transform:scaleY(1.029);transform-origin:0 6.80px;">1.32 [0.73, 2.38]</div><div class="t n" style="top:400.13px;font-family:'Liberation Serif', serif;font-size:9.2px;line-height:9.2px;color:#1c1c30;left:10.70px;transform:scaleY(1.029);transform-origin:0 7.64px;">Tamborenea M N2010<sup>[19]</sup></div><div class="t" style="top:400.07px;font-family:'Liberation Sans', sans-serif;font-size:8.0px;line-height:8.0px;right:366.00px;transform:scaleY(1.029);transform-origin:0 6.80px;">0.79208713</div><div class="t" style="top:400.07px;font-family:'Liberation Sans', sans-serif;font-size:8.0px;line-height:8.0px;right:318.00px;transform:scaleY(1.029);transform-origin:0 6.80px;">0.86273731</div><div class="t" style="top:400.07px;font-family:'Liberation Sans', sans-serif;font-size:8.0px;line-height:8.0px;right:285.40px;transform:scaleY(1.029);transform-origin:0 6.80px;">0.9%</div><div class="t" style="top:400.07px;font-family:'Liberation Sans', sans-serif;font-size:8.0px;line-height:8.0px;right:216.80px;transform:scaleY(1.029);transform-origin:0 6.80px;">2.21 [0.41, 11.98]</div><div class="t n" style="top:409.02px;font-family:'Liberation Serif', serif;font-size:9.2px;line-height:9.2px;color:#1c1c30;left:10.70px;transform:scaleY(1.029);transform-origin:0 7.64px;">Wang  XY2020<sup>[24]</sup></div><div class="t" style="top:409.36px;font-family:'Liberation Sans', sans-serif;font-size:8.0px;line-height:8.0px;right:366.00px;transform:scaleY(1.029);transform-origin:0 6.80px;">0.70507575</div><div class="t" style="top:409.36px;font-family:'Liberation Sans', sans-serif;font-size:8.0px;line-height:8.0px;right:318.00px;transform:scaleY(1.029);transform-origin:0 6.80px;">0.1592661</div><div class="t" style="top:409.36px;font-family:'Liberation Sans', sans-serif;font-size:8.0px;line-height:8.0px;right:285.40px;transform:scaleY(1.029);transform-origin:0 6.80px;">26.5%</div><div class="t" style="top:409.36px;font-family:'Liberation Sans', sans-serif;font-size:8.0px;line-height:8.0px;right:216.80px;transform:scaleY(1.029);transform-origin:0 6.80px;">2.02 [1.48, 2.77]</div><div class="t n" style="top:419.51px;font-family:'Liberation Serif', serif;font-size:9.2px;line-height:9.2px;color:#1c1c30;left:10.70px;transform:scaleY(1.029);transform-origin:0 7.64px;">Yousif SS2021<sup>[34]</sup></div><div class="t" style="top:418.65px;font-family:'Liberation Sans', sans-serif;font-size:8.0px;line-height:8.0px;right:366.00px;transform:scaleY(1.029);transform-origin:0 6.80px;">-0.32296389</div><div class="t" style="top:418.65px;font-family:'Liberation Sans', sans-serif;font-size:8.0px;line-height:8.0px;right:318.00px;transform:scaleY(1.029);transform-origin:0 6.80px;">0.5035921</div><div class="t" style="top:418.65px;font-family:'Liberation Sans', sans-serif;font-size:8.0px;line-height:8.0px;right:285.40px;transform:scaleY(1.029);transform-origin:0 6.80px;">2.7%</div><div class="t" style="top:418.65px;font-family:'Liberation Sans', sans-serif;font-size:8.0px;line-height:8.0px;right:216.80px;transform:scaleY(1.029);transform-origin:0 6.80px;">0.72 [0.27, 1.94]</div><div class="t" style="top:437.23px;font-family:'Liberation Sans', sans-serif;font-size:8px;line-height:8px;font-weight:bold;color:#333;left:10.50px;transform:scaleY(1.029);transform-origin:0 6.80px;">Total (95% CI)</div><div class="t" style="top:437.23px;font-family:'Liberation Sans', sans-serif;font-size:8px;line-height:8px;font-weight:bold;color:#333;right:285.40px;transform:scaleY(1.029);transform-origin:0 6.80px;">100.0%</div><div class="t" style="top:437.23px;font-family:'Liberation Sans', sans-serif;font-size:8px;line-height:8px;font-weight:bold;color:#333;right:216.80px;transform:scaleY(1.029);transform-origin:0 6.80px;">1.72 [1.46, 2.02]</div><div class="t" style="top:447.22px;font-family:'Liberation Sans', sans-serif;font-size:8px;line-height:8px;left:10.50px;transform:scaleY(1.029);transform-origin:0 6.80px;">Heterogeneity: Chi² = 8.65, df = 7 (P = 0.28); I² = 19%</div><div class="t" style="top:456.52px;font-family:'Liberation Sans', sans-serif;font-size:8px;line-height:8px;left:10.50px;transform:scaleY(1.029);transform-origin:0 6.80px;">Test for overall effect: Z = 6.59 (P &lt; 0.00001)</div><div class="t" style="top:450.06px;font-family:'Liberation Sans', sans-serif;font-size:7.6px;line-height:7.6px;left:319.30px;transform:scaleY(0.978);transform-origin:0 6.46px;">0.01</div><div class="t" style="top:450.06px;font-family:'Liberation Sans', sans-serif;font-size:7.6px;line-height:7.6px;left:168.80px;width:400px;text-align:center;transform:scaleY(0.978);transform-origin:0 6.46px;">0.1</div><div class="t" style="top:450.06px;font-family:'Liberation Sans', sans-serif;font-size:7.6px;line-height:7.6px;left:218.30px;width:400px;text-align:center;transform:scaleY(0.978);transform-origin:0 6.46px;">1</div><div class="t" style="top:450.06px;font-family:'Liberation Sans', sans-serif;font-size:7.6px;line-height:7.6px;left:267.80px;width:400px;text-align:center;transform:scaleY(0.978);transform-origin:0 6.46px;">10</div><div class="t" style="top:450.06px;font-family:'Liberation Sans', sans-serif;font-size:7.6px;line-height:7.6px;right:10.70px;transform:scaleY(0.978);transform-origin:0 6.46px;">100</div><div class="t" style="top:458.39px;font-family:'Liberation Sans', sans-serif;font-size:8px;line-height:8px;right:114.70px;transform:scaleY(0.978);transform-origin:0 6.80px;">Favours [experimental]</div><div class="t" style="top:458.39px;font-family:'Liberation Sans', sans-serif;font-size:8px;line-height:8px;left:421.90px;transform:scaleY(0.978);transform-origin:0 6.80px;">Favours [control]</div><div class="t tt" style="top:472.16px;font-family:'Liberation Serif', serif;font-size:14.5px;line-height:14.5px;font-weight:bold;left:8.00px;">Age &gt; 40</div><div class="t" style="top:481.64px;font-family:'Liberation Sans', sans-serif;font-size:7.9px;line-height:7.9px;font-weight:bold;color:#2e2e2e;left:252.70px;transform:scaleY(1.159);transform-origin:0 6.71px;">Odds Ratio</div><div class="t" style="top:481.64px;font-family:'Liberation Sans', sans-serif;font-size:7.9px;line-height:7.9px;font-weight:bold;color:#2e2e2e;left:216.90px;width:400px;text-align:center;transform:scaleY(1.159);transform-origin:0 6.71px;">Odds Ratio</div><div class="t" style="top:492.49px;font-family:'Liberation Sans', sans-serif;font-size:7.9px;line-height:7.9px;font-weight:bold;color:#2e2e2e;left:10.00px;transform:scaleY(1.159);transform-origin:0 6.71px;">Study or Subgroup</div><div class="t" style="top:492.49px;font-family:'Liberation Sans', sans-serif;font-size:7.9px;line-height:7.9px;font-weight:bold;color:#2e2e2e;right:370.50px;transform:scaleY(1.159);transform-origin:0 6.71px;">log[Odds Ratio]</div><div class="t" style="top:492.49px;font-family:'Liberation Sans', sans-serif;font-size:7.9px;line-height:7.9px;font-weight:bold;color:#2e2e2e;right:322.00px;transform:scaleY(1.159);transform-origin:0 6.71px;">SE</div><div class="t" style="top:492.49px;font-family:'Liberation Sans', sans-serif;font-size:7.9px;line-height:7.9px;font-weight:bold;color:#2e2e2e;right:288.00px;transform:scaleY(1.159);transform-origin:0 6.71px;">Weight</div><div class="t" style="top:492.49px;font-family:'Liberation Sans', sans-serif;font-size:7.9px;line-height:7.9px;font-weight:bold;color:#2e2e2e;left:249.10px;transform:scaleY(1.159);transform-origin:0 6.71px;">IV, Fixed, 95% CI</div><div class="t" style="top:492.49px;font-family:'Liberation Sans', sans-serif;font-size:7.9px;line-height:7.9px;font-weight:bold;color:#2e2e2e;left:217.90px;width:400px;text-align:center;transform:scaleY(1.159);transform-origin:0 6.71px;">IV, Fixed, 95% CI</div><div class="t n" style="top:502.63px;font-family:'Liberation Serif', serif;font-size:9.2px;line-height:9.2px;color:#1c1c30;left:12.00px;transform:scaleY(1.220);transform-origin:0 7.64px;">Zhang  LF2024<sup>[34]</sup></div><div class="t" style="top:504.26px;font-family:'Liberation Sans', sans-serif;font-size:8.0px;line-height:8.0px;right:372.00px;transform:scaleY(1.220);transform-origin:0 6.80px;">0.59332684</div><div class="t" style="top:504.26px;font-family:'Liberation Sans', sans-serif;font-size:8.0px;line-height:8.0px;right:322.50px;transform:scaleY(1.220);transform-origin:0 6.80px;">0.10458151</div><div class="t" style="top:504.26px;font-family:'Liberation Sans', sans-serif;font-size:8.0px;line-height:8.0px;right:288.50px;transform:scaleY(1.220);transform-origin:0 6.80px;">93.7%</div><div class="t" style="top:504.26px;font-family:'Liberation Sans', sans-serif;font-size:8.0px;line-height:8.0px;right:217.70px;transform:scaleY(1.220);transform-origin:0 6.80px;">1.81 [1.47, 2.22]</div><div class="t n" style="top:513.65px;font-family:'Liberation Serif', serif;font-size:9.2px;line-height:9.2px;color:#1c1c30;left:12.00px;transform:scaleY(1.220);transform-origin:0 7.64px;">Deng  RH2022<sup>[38]</sup></div><div class="t" style="top:515.28px;font-family:'Liberation Sans', sans-serif;font-size:8.0px;line-height:8.0px;right:372.00px;transform:scaleY(1.220);transform-origin:0 6.80px;">0.84801189</div><div class="t" style="top:515.28px;font-family:'Liberation Sans', sans-serif;font-size:8.0px;line-height:8.0px;right:322.50px;transform:scaleY(1.220);transform-origin:0 6.80px;">0.40192254</div><div class="t" style="top:515.28px;font-family:'Liberation Sans', sans-serif;font-size:8.0px;line-height:8.0px;right:288.50px;transform:scaleY(1.220);transform-origin:0 6.80px;">6.3%</div><div class="t" style="top:515.28px;font-family:'Liberation Sans', sans-serif;font-size:8.0px;line-height:8.0px;right:217.70px;transform:scaleY(1.220);transform-origin:0 6.80px;">2.33 [1.06, 5.13]</div><div class="t" style="top:537.32px;font-family:'Liberation Sans', sans-serif;font-size:8px;line-height:8px;font-weight:bold;color:#333;left:10.00px;transform:scaleY(1.220);transform-origin:0 6.80px;">Total (95% CI)</div><div class="t" style="top:537.32px;font-family:'Liberation Sans', sans-serif;font-size:8px;line-height:8px;font-weight:bold;color:#333;right:288.50px;transform:scaleY(1.220);transform-origin:0 6.80px;">100.0%</div><div class="t" style="top:537.32px;font-family:'Liberation Sans', sans-serif;font-size:8px;line-height:8px;font-weight:bold;color:#333;right:217.70px;transform:scaleY(1.220);transform-origin:0 6.80px;">1.84 [1.51, 2.24]</div><div class="t" style="top:548.34px;font-family:'Liberation Sans', sans-serif;font-size:8px;line-height:8px;left:10.00px;transform:scaleY(1.220);transform-origin:0 6.80px;">Heterogeneity: Chi² = 0.38, df = 1 (P = 0.54); I² = 0%</div><div class="t" style="top:559.35px;font-family:'Liberation Sans', sans-serif;font-size:8px;line-height:8px;left:10.00px;transform:scaleY(1.220);transform-origin:0 6.80px;">Test for overall effect: Z = 6.02 (P &lt; 0.00001)</div><div class="t" style="top:553.48px;font-family:'Liberation Sans', sans-serif;font-size:7.6px;line-height:7.6px;left:317.60px;transform:scaleY(1.159);transform-origin:0 6.46px;">0.01</div><div class="t" style="top:553.48px;font-family:'Liberation Sans', sans-serif;font-size:7.6px;line-height:7.6px;left:167.00px;width:400px;text-align:center;transform:scaleY(1.159);transform-origin:0 6.46px;">0.1</div><div class="t" style="top:553.48px;font-family:'Liberation Sans', sans-serif;font-size:7.6px;line-height:7.6px;left:216.40px;width:400px;text-align:center;transform:scaleY(1.159);transform-origin:0 6.46px;">1</div><div class="t" style="top:553.48px;font-family:'Liberation Sans', sans-serif;font-size:7.6px;line-height:7.6px;left:265.80px;width:400px;text-align:center;transform:scaleY(1.159);transform-origin:0 6.46px;">10</div><div class="t" style="top:553.48px;font-family:'Liberation Sans', sans-serif;font-size:7.6px;line-height:7.6px;right:12.80px;transform:scaleY(1.159);transform-origin:0 6.46px;">100</div><div class="t" style="top:563.42px;font-family:'Liberation Sans', sans-serif;font-size:8px;line-height:8px;right:116.60px;transform:scaleY(1.159);transform-origin:0 6.80px;">Favours [experimental]</div><div class="t" style="top:563.42px;font-family:'Liberation Sans', sans-serif;font-size:8px;line-height:8px;left:420.00px;transform:scaleY(1.159);transform-origin:0 6.80px;">Favours [control]</div><div class="t tt" style="top:573.38px;font-family:'Liberation Serif', serif;font-size:14.6px;line-height:14.6px;font-weight:bold;left:10.00px;">Chloroquine treatment</div><div class="t" style="top:583.92px;font-family:'Liberation Sans', sans-serif;font-size:7.9px;line-height:7.9px;font-weight:bold;color:#2e2e2e;left:254.90px;transform:scaleY(1.118);transform-origin:0 6.71px;">Odds Ratio</div><div class="t" style="top:583.92px;font-family:'Liberation Sans', sans-serif;font-size:7.9px;line-height:7.9px;font-weight:bold;color:#2e2e2e;left:218.05px;width:400px;text-align:center;transform:scaleY(1.118);transform-origin:0 6.71px;">Odds Ratio</div><div class="t" style="top:594.38px;font-family:'Liberation Sans', sans-serif;font-size:7.9px;line-height:7.9px;font-weight:bold;color:#2e2e2e;left:10.00px;transform:scaleY(1.118);transform-origin:0 6.71px;">Study or Subgroup</div><div class="t" style="top:594.38px;font-family:'Liberation Sans', sans-serif;font-size:7.9px;line-height:7.9px;font-weight:bold;color:#2e2e2e;right:369.20px;transform:scaleY(1.118);transform-origin:0 6.71px;">log[Odds Ratio]</div><div class="t" style="top:594.38px;font-family:'Liberation Sans', sans-serif;font-size:7.9px;line-height:7.9px;font-weight:bold;color:#2e2e2e;right:321.00px;transform:scaleY(1.118);transform-origin:0 6.71px;">SE</div><div class="t" style="top:594.38px;font-family:'Liberation Sans', sans-serif;font-size:7.9px;line-height:7.9px;font-weight:bold;color:#2e2e2e;right:287.00px;transform:scaleY(1.118);transform-origin:0 6.71px;">Weight</div><div class="t" style="top:594.38px;font-family:'Liberation Sans', sans-serif;font-size:7.9px;line-height:7.9px;font-weight:bold;color:#2e2e2e;left:251.30px;transform:scaleY(1.118);transform-origin:0 6.71px;">IV, Fixed, 95% CI</div><div class="t" style="top:594.38px;font-family:'Liberation Sans', sans-serif;font-size:7.9px;line-height:7.9px;font-weight:bold;color:#2e2e2e;left:219.05px;width:400px;text-align:center;transform:scaleY(1.118);transform-origin:0 6.71px;">IV, Fixed, 95% CI</div><div class="t n" style="top:605.11px;font-family:'Liberation Serif', serif;font-size:9.2px;line-height:9.2px;color:#1c1c30;left:11.70px;transform:scaleY(1.177);transform-origin:0 7.64px;">Mora  C2021<sup>[28]</sup></div><div class="t" style="top:605.92px;font-family:'Liberation Sans', sans-serif;font-size:7.8px;line-height:7.8px;right:370.70px;transform:scaleY(1.177);transform-origin:0 6.63px;">0.24842136</div><div class="t" style="top:605.92px;font-family:'Liberation Sans', sans-serif;font-size:7.8px;line-height:7.8px;right:321.50px;transform:scaleY(1.177);transform-origin:0 6.63px;">0.12676701</div><div class="t" style="top:605.92px;font-family:'Liberation Sans', sans-serif;font-size:7.8px;line-height:7.8px;right:287.50px;transform:scaleY(1.177);transform-origin:0 6.63px;">87.8%</div><div class="t" style="top:605.92px;font-family:'Liberation Sans', sans-serif;font-size:7.8px;line-height:7.8px;right:217.00px;transform:scaleY(1.177);transform-origin:0 6.63px;">1.28 [1.00, 1.64]</div><div class="t n" style="top:616.94px;font-family:'Liberation Serif', serif;font-size:9.2px;line-height:9.2px;color:#1c1c30;left:11.70px;transform:scaleY(1.177);transform-origin:0 7.64px;">Malinová J2021<sup>[26]</sup></div><div class="t" style="top:616.54px;font-family:'Liberation Sans', sans-serif;font-size:7.8px;line-height:7.8px;right:370.70px;transform:scaleY(1.177);transform-origin:0 6.63px;">0.49774038</div><div class="t" style="top:616.54px;font-family:'Liberation Sans', sans-serif;font-size:7.8px;line-height:7.8px;right:321.50px;transform:scaleY(1.177);transform-origin:0 6.63px;">0.43948128</div><div class="t" style="top:616.54px;font-family:'Liberation Sans', sans-serif;font-size:7.8px;line-height:7.8px;right:287.50px;transform:scaleY(1.177);transform-origin:0 6.63px;">7.3%</div><div class="t" style="top:616.54px;font-family:'Liberation Sans', sans-serif;font-size:7.8px;line-height:7.8px;right:217.00px;transform:scaleY(1.177);transform-origin:0 6.63px;">1.64 [0.70, 3.89]</div><div class="t n" style="top:627.86px;font-family:'Liberation Serif', serif;font-size:9.2px;line-height:9.2px;color:#1c1c30;left:11.70px;transform:scaleY(1.177);transform-origin:0 7.64px;">Wang  XY2020<sup>[24]</sup></div><div class="t" style="top:627.17px;font-family:'Liberation Sans', sans-serif;font-size:7.8px;line-height:7.8px;right:370.70px;transform:scaleY(1.177);transform-origin:0 6.63px;">-0.28768207</div><div class="t" style="top:627.17px;font-family:'Liberation Sans', sans-serif;font-size:7.8px;line-height:7.8px;right:321.50px;transform:scaleY(1.177);transform-origin:0 6.63px;">0.53805299</div><div class="t" style="top:627.17px;font-family:'Liberation Sans', sans-serif;font-size:7.8px;line-height:7.8px;right:287.50px;transform:scaleY(1.177);transform-origin:0 6.63px;">4.9%</div><div class="t" style="top:627.17px;font-family:'Liberation Sans', sans-serif;font-size:7.8px;line-height:7.8px;right:217.00px;transform:scaleY(1.177);transform-origin:0 6.63px;">0.75 [0.26, 2.15]</div><div class="t" style="top:648.26px;font-family:'Liberation Sans', sans-serif;font-size:8px;line-height:8px;font-weight:bold;color:#333;left:10.00px;transform:scaleY(1.177);transform-origin:0 6.80px;">Total (95% CI)</div><div class="t" style="top:648.26px;font-family:'Liberation Sans', sans-serif;font-size:8px;line-height:8px;font-weight:bold;color:#333;right:287.50px;transform:scaleY(1.177);transform-origin:0 6.80px;">100.0%</div><div class="t" style="top:648.26px;font-family:'Liberation Sans', sans-serif;font-size:8px;line-height:8px;font-weight:bold;color:#333;right:217.00px;transform:scaleY(1.177);transform-origin:0 6.80px;">1.27 [1.01, 1.61]</div><div class="t" style="top:658.88px;font-family:'Liberation Sans', sans-serif;font-size:8px;line-height:8px;left:10.00px;transform:scaleY(1.177);transform-origin:0 6.80px;">Heterogeneity: Chi² = 1.31, df = 2 (P = 0.52); I² = 0%</div><div class="t" style="top:669.51px;font-family:'Liberation Sans', sans-serif;font-size:8px;line-height:8px;left:10.00px;transform:scaleY(1.177);transform-origin:0 6.80px;">Test for overall effect: Z = 2.02 (P = 0.04)</div><div class="t" style="top:665.60px;font-family:'Liberation Sans', sans-serif;font-size:7.6px;line-height:7.6px;left:318.35px;transform:scaleY(1.118);transform-origin:0 6.46px;">0.01</div><div class="t" style="top:665.60px;font-family:'Liberation Sans', sans-serif;font-size:7.6px;line-height:7.6px;left:167.95px;width:400px;text-align:center;transform:scaleY(1.118);transform-origin:0 6.46px;">0.1</div><div class="t" style="top:665.60px;font-family:'Liberation Sans', sans-serif;font-size:7.6px;line-height:7.6px;left:217.55px;width:400px;text-align:center;transform:scaleY(1.118);transform-origin:0 6.46px;">1</div><div class="t" style="top:665.60px;font-family:'Liberation Sans', sans-serif;font-size:7.6px;line-height:7.6px;left:267.15px;width:400px;text-align:center;transform:scaleY(1.118);transform-origin:0 6.46px;">10</div><div class="t" style="top:665.60px;font-family:'Liberation Sans', sans-serif;font-size:7.6px;line-height:7.6px;right:11.25px;transform:scaleY(1.118);transform-origin:0 6.46px;">100</div><div class="t" style="top:675.83px;font-family:'Liberation Sans', sans-serif;font-size:8px;line-height:8px;right:115.45px;transform:scaleY(1.118);transform-origin:0 6.80px;">Favours [experimental]</div><div class="t" style="top:675.83px;font-family:'Liberation Sans', sans-serif;font-size:8px;line-height:8px;left:421.15px;transform:scaleY(1.118);transform-origin:0 6.80px;">Favours [control]</div>
</div></body></html>
